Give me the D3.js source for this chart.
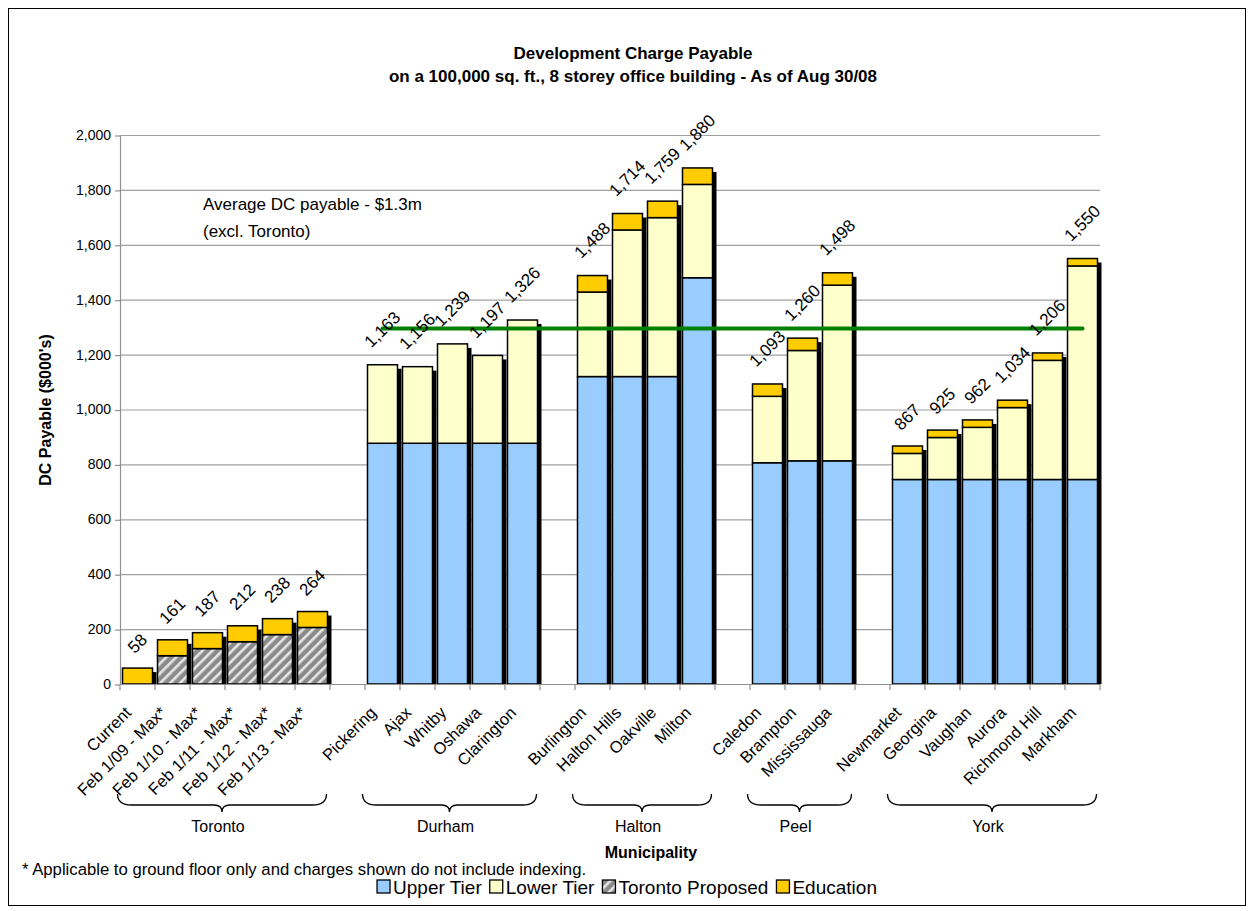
<!DOCTYPE html>
<html>
<head>
<meta charset="utf-8">
<script src="https://cdn.jsdelivr.net/npm/d3@7"></script>
<style>
  html, body { margin: 0; padding: 0; background: #fff; }
  svg { display: block; font-family: "Liberation Sans", Arial, sans-serif; }
</style>
</head>
<body>
<svg id="chart" width="1253" height="911"></svg>
<script>
// Development charges ($000's) by municipality, stacked by component
const categories = [
  "Current", "Feb 1/09 - Max*", "Feb 1/10 - Max*", "Feb 1/11 - Max*", "Feb 1/12 - Max*", "Feb 1/13 - Max*",
  "Pickering", "Ajax", "Whitby", "Oshawa", "Clarington",
  "Burlington", "Halton Hills", "Oakville", "Milton",
  "Caledon", "Brampton", "Mississauga",
  "Newmarket", "Georgina", "Vaughan", "Aurora", "Richmond Hill", "Markham"
];
const regions = [
  "Toronto", "Toronto", "Toronto", "Toronto", "Toronto", "Toronto",
  "Durham", "Durham", "Durham", "Durham", "Durham",
  "Halton", "Halton", "Halton", "Halton",
  "Peel", "Peel", "Peel",
  "York", "York", "York", "York", "York", "York"
];
const upperTier = [
  0, 0, 0, 0, 0, 0,
  877, 877, 877, 877, 877,
  1120, 1120, 1120, 1480,
  806, 813, 813,
  745, 745, 745, 745, 745, 745
];
const lowerTier = [
  0, 0, 0, 0, 0, 0,
  286, 279, 362, 320, 449,
  308, 534, 579, 340,
  242, 402, 640,
  95, 153, 190, 262, 434, 778
];
const torontoProposed = [
  0, 103, 129, 154, 180, 206,
  0, 0, 0, 0, 0,
  0, 0, 0, 0,
  0, 0, 0,
  0, 0, 0, 0, 0, 0
];
const education = [
  58, 58, 58, 58, 58, 58,
  0, 0, 0, 0, 0,
  60, 60, 60, 60,
  45, 45, 45,
  27, 27, 27, 27, 27, 27
];
const seriesNames = ["Upper Tier", "Lower Tier", "Toronto Proposed", "Education"];
const yTicks = [0, 200, 400, 600, 800, 1000, 1200, 1400, 1600, 1800, 2000];

const titleLines = [
  "Development Charge Payable",
  "on a 100,000 sq. ft., 8 storey office building - As of Aug 30/08"
];
const averageNote = ["Average DC payable - $1.3m", "(excl. Toronto)"];
const footnote = "* Applicable to ground floor only and charges shown do not include indexing.";

const fills = {
  "Upper Tier": "#99ccff",
  "Lower Tier": "#ffffcc",
  "Toronto Proposed": "url(#hatch)",
  "Education": "#ffcc00"
};

const svg = d3.select("#chart");
const plot = { left: 120, right: 1100, top: 135, bottom: 684 };

// hatch for the proposed Toronto charges
const defs = svg.append("defs");
const pat = defs.append("pattern")
  .attr("id", "hatch").attr("patternUnits", "userSpaceOnUse")
  .attr("width", 7).attr("height", 7)
  .attr("patternTransform", "rotate(45)");
pat.append("rect").attr("width", 7).attr("height", 7).attr("fill", "#8a8a8a");
pat.append("rect").attr("x", 0).attr("width", 2.6).attr("height", 7).attr("fill", "#e6e6e6");

// outer frame
svg.append("rect").attr("x", 8.5).attr("y", 8.5).attr("width", 1237).attr("height", 897)
  .attr("fill", "none").attr("stroke", "#000").attr("stroke-width", 1);

// rows of data
const rows = categories.map((c, i) => ({
  name: c, region: regions[i],
  values: [upperTier[i], lowerTier[i], torontoProposed[i], education[i]]
}));
rows.forEach(r => r.total = d3.sum(r.values));

// slot list with one empty slot between regions
const slots = [];
rows.forEach((r, i) => {
  if (i > 0 && r.region !== rows[i - 1].region) slots.push("gap-" + i);
  slots.push(r.name);
});

const x = d3.scaleBand().domain(slots).range([plot.left, plot.right])
  .paddingInner(0.143).paddingOuter(0.0715);
const step = x.step();
const y = d3.scaleLinear().domain([0, 2000]).range([plot.bottom, plot.top]);

// gridlines
svg.append("g").selectAll("line").data(yTicks.filter(d => d > 0)).join("line")
  .attr("x1", plot.left).attr("x2", plot.right)
  .attr("y1", d => y(d) + 0.5).attr("y2", d => y(d) + 0.5)
  .attr("stroke", "#a0a0a0").attr("stroke-width", 1.2);

// y axis
const yAxis = svg.append("g").attr("transform", `translate(${plot.left},0)`)
  .call(d3.axisLeft(y).tickValues(yTicks).tickFormat(d3.format(",")).tickSize(5).tickSizeOuter(0));
yAxis.select(".domain").attr("stroke", "#909090").attr("stroke-width", 1.2);
yAxis.selectAll(".tick line").attr("stroke", "#909090").attr("stroke-width", 1.2)
  .attr("transform", "translate(0,0.5)");
yAxis.selectAll(".tick text").attr("font-size", 14).attr("fill", "#000")
  .attr("font-family", "'Liberation Sans', Arial, sans-serif").attr("x", -9);

// bars
const barsG = svg.append("g");
rows.forEach(r => {
  const bx = x(r.name), bw = x.bandwidth();
  const g = barsG.append("g");
  // drop shadow
  g.append("rect")
    .attr("x", bx + 4).attr("y", y(r.total) + 4)
    .attr("width", bw).attr("height", Math.max(0, y(0) - y(r.total) - 4))
    .attr("fill", "#000");
  let base = 0;
  r.values.forEach((v, k) => {
    if (v <= 0) return;
    g.append("rect")
      .attr("x", bx).attr("y", y(base + v))
      .attr("width", bw).attr("height", y(base) - y(base + v))
      .attr("fill", fills[seriesNames[k]])
      .attr("stroke", "#000").attr("stroke-width", 1.5);
    base += v;
  });
});

// x axis line and slot ticks
svg.append("line").attr("x1", plot.left).attr("x2", plot.right)
  .attr("y1", plot.bottom + 0.5).attr("y2", plot.bottom + 0.5)
  .attr("stroke", "#909090").attr("stroke-width", 1.2);
svg.append("g").selectAll("line").data(d3.range(slots.length + 1)).join("line")
  .attr("x1", i => plot.left + i * step).attr("x2", i => plot.left + i * step)
  .attr("y1", plot.bottom).attr("y2", plot.bottom + 6)
  .attr("stroke", "#909090").attr("stroke-width", 1.2);

// average line across the non-Toronto municipalities
const others = rows.filter(r => r.region !== "Toronto");
const avg = d3.mean(others, r => r.total);
svg.append("line")
  .attr("x1", x(others[0].name) + x.bandwidth() / 2)
  .attr("x2", x(others[others.length - 1].name) + x.bandwidth() / 2)
  .attr("y1", y(avg)).attr("y2", y(avg))
  .attr("stroke", "#008000").attr("stroke-width", 4).attr("stroke-linecap", "round");

// total labels, rotated
const fmt = d3.format(",");
rows.forEach(r => {
  const cx = x(r.name) + x.bandwidth() / 2;
  const t = svg.append("text").text(fmt(r.total))
    .attr("font-size", 17).attr("text-anchor", "middle")
    .attr("dominant-baseline", "central");
  const w = t.node().getComputedTextLength();
  t.attr("transform", `translate(${cx},${y(r.total) - (16 + 0.45 * w)}) rotate(-45)`);
});

// category labels
rows.forEach(r => {
  const cx = x(r.name) + x.bandwidth() / 2;
  svg.append("text").text(r.name)
    .attr("font-size", 16.5).attr("text-anchor", "end")
    .attr("dy", "0.75em")
    .attr("transform", `translate(${cx - 14},${plot.bottom + 21}) rotate(-45)`);
});

// region braces and names
const regionNames = Array.from(new Set(regions));
regionNames.forEach(reg => {
  const members = rows.filter(r => r.region === reg);
  const x0 = x(members[0].name) - 5;
  const x1 = x(members[members.length - 1].name) + x.bandwidth() - 1;
  const xm = (x0 + x1) / 2;
  const yb = 794, h = 11;
  const p = `M${x0},${yb} Q${x0},${yb + h} ${x0 + 14},${yb + h} L${xm - 8},${yb + h} Q${xm},${yb + h} ${xm},${yb + h + 7} Q${xm},${yb + h} ${xm + 8},${yb + h} L${x1 - 14},${yb + h} Q${x1},${yb + h} ${x1},${yb}`;
  svg.append("path").attr("d", p).attr("fill", "none").attr("stroke", "#000").attr("stroke-width", 1.3);
  svg.append("text").text(reg).attr("x", xm - 4).attr("y", 832)
    .attr("font-size", 16).attr("text-anchor", "middle");
});

// titles
svg.append("g").selectAll("text").data(titleLines).join("text")
  .attr("x", 633).attr("y", (d, i) => 59 + i * 23)
  .attr("text-anchor", "middle").attr("font-size", 17).attr("font-weight", "bold")
  .text(d => d);

// axis titles
svg.append("text").text("DC Payable ($000's)")
  .attr("transform", "translate(51,410) rotate(-90)")
  .attr("text-anchor", "middle").attr("font-size", 16).attr("font-weight", "bold");
svg.append("text").text("Municipality")
  .attr("x", 651).attr("y", 858).attr("text-anchor", "middle")
  .attr("font-size", 16).attr("font-weight", "bold");

// average note
svg.append("g").selectAll("text").data(averageNote).join("text")
  .attr("x", 203).attr("y", (d, i) => 210 + i * 27)
  .attr("font-size", 17).text(d => d);

// footnote
svg.append("text").text(footnote).attr("x", 22).attr("y", 875).attr("font-size", 16.7);

// legend, centred under the plot
const legend = svg.append("g");
let lx = 0;
seriesNames.forEach(name => {
  const item = legend.append("g").attr("transform", `translate(${lx},0)`);
  item.append("rect").attr("x", 0).attr("y", -7).attr("width", 13).attr("height", 13)
    .attr("fill", fills[name]).attr("stroke", "#000").attr("stroke-width", 1.3);
  const t = item.append("text").text(name).attr("x", 16).attr("y", 7).attr("font-size", 19);
  lx += 16 + t.node().getComputedTextLength() + 8;
});
legend.attr("transform", `translate(${631 - lx / 2},887)`);
</script>
</body>
</html>
